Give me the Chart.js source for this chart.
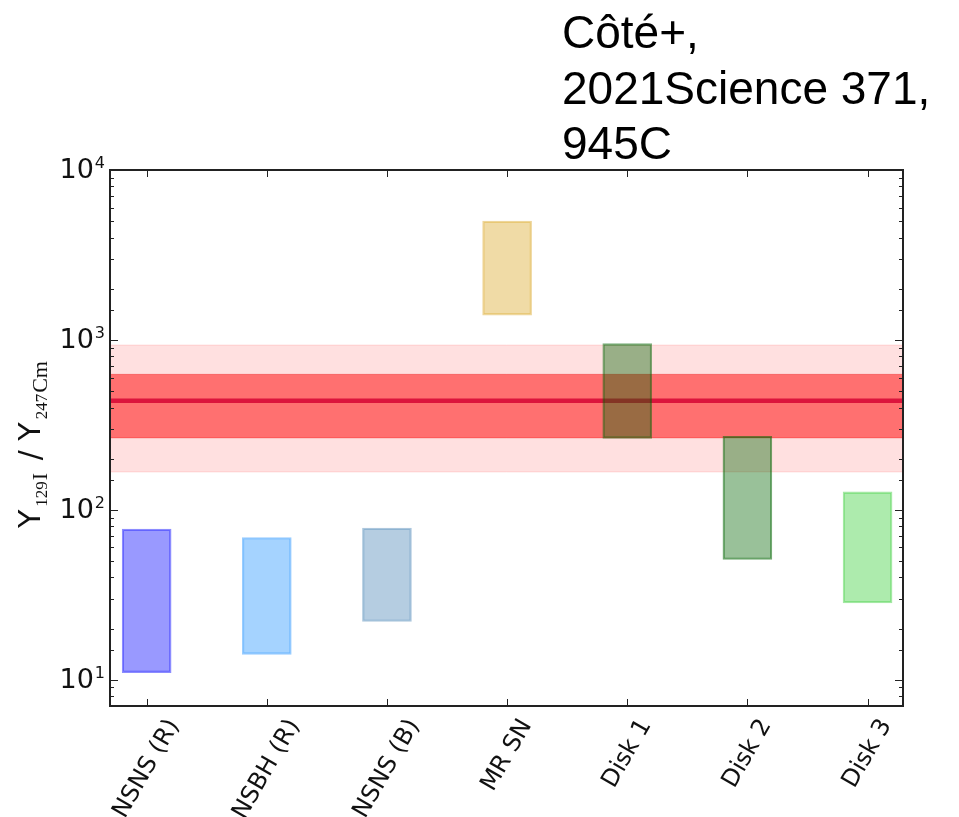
<!DOCTYPE html>
<html>
<head>
<meta charset="utf-8">
<script src="https://cdn.jsdelivr.net/npm/chart.js@4.4.0/dist/chart.umd.min.js"></script>
<style>
    html, body { margin: 0; padding: 0; background: #fff; }
    #wrap { width: 959px; height: 817px; position: relative; }
</style>
</head>
<body>
<div id="wrap"><canvas id="ratioChart"></canvas></div>
<script>
// Predicted 129I / 247Cm yield ratio ranges per site
const categories = ['NSNS (R)', 'NSBH (R)', 'NSNS (B)', 'MR SN', 'Disk 1', 'Disk 2', 'Disk 3'];
const rangeLow  = [11, 14.1, 22, 1400, 263, 51, 28.3];
const rangeHigh = [77, 68.7, 78, 5000, 950, 271, 127.6];
const barFill = [
    'rgba(0,0,255,0.4)', 'rgba(30,144,255,0.4)', 'rgba(70,130,180,0.4)',
    'rgba(218,165,32,0.4)', 'rgba(0,100,0,0.4)', 'rgba(0,100,0,0.4)', 'rgba(50,205,50,0.4)'
];
const barEdge = [
    'rgba(0,0,255,0.45)', 'rgba(30,144,255,0.45)', 'rgba(70,130,180,0.45)',
    'rgba(218,165,32,0.45)', 'rgba(0,100,0,0.5)', 'rgba(0,100,0,0.55)', 'rgba(50,205,50,0.45)'
];

// Early solar system value with 1 and 2 sigma bands
const essValue = 438;
const band1 = [265, 627];
const band2 = [167, 932];

const yTickValues = [10, 100, 1000, 10000];
const yTickExp = ['1', '2', '3', '4'];

const X_MIN = -0.305, X_MAX = 6.295;

const titleLines = ['Côté+,', '2021Science 371,', '945C'];

function flat(v) {
    return [{ x: X_MIN, y: v }, { x: X_MAX, y: v }];
}

function isMajor(v) {
    return yTickValues.findIndex(t => Math.abs(v - t) / t < 1e-6);
}

const frameAndLabels = {
    id: 'frameAndLabels',
    afterDraw(chart) {
        const { ctx, chartArea: a, scales: { x, y } } = chart;
        ctx.save();
        ctx.strokeStyle = '#222';
        ctx.lineWidth = 1;
        ctx.beginPath();
        // inward ticks, left and right
        y.ticks.forEach(t => {
            const py = Math.round(y.getPixelForValue(t.value)) + 0.5;
            const len = isMajor(t.value) >= 0 ? 8 : 4;
            ctx.moveTo(a.left, py); ctx.lineTo(a.left + len, py);
            ctx.moveTo(a.right, py); ctx.lineTo(a.right - len, py);
        });
        // inward ticks, top and bottom
        categories.forEach((c, i) => {
            const px = Math.round(x.getPixelForValue(i)) + 0.5;
            ctx.moveTo(px, a.top); ctx.lineTo(px, a.top + 7);
            ctx.moveTo(px, a.bottom); ctx.lineTo(px, a.bottom - 7);
        });
        ctx.stroke();

        ctx.lineWidth = 2;
        ctx.strokeRect(a.left, a.top, a.right - a.left, a.bottom - a.top);

        // decade labels, 10 with a raised exponent
        ctx.fillStyle = '#111';
        ctx.textBaseline = 'alphabetic';
        yTickValues.forEach((v, i) => {
            const py = y.getPixelForValue(v);
            const right = a.left - 5;
            ctx.font = '16px "DejaVu Sans"';
            const ew = ctx.measureText(yTickExp[i]).width;
            ctx.textAlign = 'left';
            ctx.fillText(yTickExp[i], right - ew, py - 2);
            ctx.font = '27px "DejaVu Sans"';
            ctx.textAlign = 'right';
            ctx.fillText('10', right - ew - 1, py + 8);
        });

        // rotated category labels, centred under each tick
        ctx.font = '24px "DejaVu Sans"';
        ctx.textAlign = 'center';
        ctx.textBaseline = 'middle';
        const rot = Math.PI / 3;
        const h = 22;
        categories.forEach((c, i) => {
            const w = ctx.measureText(c).width;
            const H = w * Math.sin(rot) + h * Math.cos(rot);
            const cx = x.getPixelForValue(i);
            const cy = a.bottom + 10 + H / 2;
            ctx.save();
            ctx.translate(cx, cy);
            ctx.rotate(-rot);
            ctx.fillText(c, 0, 0);
            ctx.restore();
        });

        // y axis title: Y_{129 I} / Y_{247 Cm}
        const parts = [
            { t: 'Y', f: '30px "DejaVu Sans"', dy: 0 },
            { t: '129', f: '17px "Liberation Serif"', dy: 7, gap: 3 },
            { t: 'I', f: '22px "Liberation Serif"', dy: 7, gap: 1 },
            { t: ' / ', f: '30px "DejaVu Sans"', dy: 0, gap: 3 },
            { t: 'Y', f: '30px "DejaVu Sans"', dy: 0 },
            { t: '247', f: '17px "Liberation Serif"', dy: 7, gap: 3 },
            { t: 'Cm', f: '22px "Liberation Serif"', dy: 7, gap: 1 }
        ];
        ctx.save();
        ctx.translate(40, 528);
        ctx.rotate(-Math.PI / 2);
        ctx.textAlign = 'left';
        ctx.textBaseline = 'alphabetic';
        let cx = 0;
        parts.forEach(p => {
            cx += p.gap || 0;
            ctx.font = p.f;
            ctx.fillText(p.t, cx, p.dy);
            cx += ctx.measureText(p.t).width;
        });
        ctx.restore();

        // citation text above the plot
        ctx.fillStyle = '#000';
        ctx.font = '46px "Liberation Sans"';
        ctx.textAlign = 'left';
        ctx.textBaseline = 'alphabetic';
        titleLines.forEach((line, i) => ctx.fillText(line, 562, 48 + i * 55.5));
        ctx.restore();
    }
};

const ctx = document.getElementById('ratioChart').getContext('2d');

new Chart(ctx, {
    type: 'bar',
    data: {
        datasets: [
            {
                label: 'Sites',
                data: categories.map((c, i) => ({ x: i, y: [rangeLow[i], rangeHigh[i]] })),
                backgroundColor: barFill,
                borderColor: barEdge,
                borderWidth: 1.5,
                borderSkipped: false,
                barThickness: 49,
                order: 0
            },
            {
                type: 'line',
                label: 'ESS',
                data: flat(essValue),
                borderColor: '#dc143c',
                borderWidth: 4.5,
                pointRadius: 0,
                order: 1
            },
            {
                type: 'line',
                label: '2 sigma low',
                data: flat(band2[0]),
                borderColor: 'rgba(255,0,0,0.12)',
                borderWidth: 1,
                pointRadius: 0,
                order: 5
            },
            {
                type: 'line',
                label: '2 sigma high',
                data: flat(band2[1]),
                borderColor: 'rgba(255,0,0,0.12)',
                backgroundColor: 'rgba(255,0,0,0.12)',
                borderWidth: 1,
                pointRadius: 0,
                fill: '-1',
                order: 4
            },
            {
                type: 'line',
                label: '1 sigma low',
                data: flat(band1[0]),
                borderColor: 'rgba(230,0,0,0.3)',
                borderWidth: 1,
                pointRadius: 0,
                order: 3
            },
            {
                type: 'line',
                label: '1 sigma high',
                data: flat(band1[1]),
                borderColor: 'rgba(230,0,0,0.3)',
                backgroundColor: 'rgba(255,0,0,0.5)',
                borderWidth: 1,
                pointRadius: 0,
                fill: '-1',
                order: 2
            }
        ]
    },
    options: {
        responsive: true,
        maintainAspectRatio: false,
        animation: false,
        layout: {
            padding: { top: 170, right: 56, bottom: 0, left: 0 }
        },
        plugins: {
            legend: { display: false },
            tooltip: { enabled: false }
        },
        scales: {
            x: {
                type: 'linear',
                min: X_MIN,
                max: X_MAX,
                offset: false,
                grid: { display: false },
                border: { display: false },
                ticks: { display: false },
                afterBuildTicks: s => { s.ticks = categories.map((c, i) => ({ value: i })); },
                afterFit: s => { s.height = 111; }
            },
            y: {
                type: 'logarithmic',
                min: 7,
                max: 10000,
                grid: { display: false },
                border: { display: false },
                ticks: { display: false, autoSkip: false },
                afterFit: s => { s.width = 110; }
            }
        }
    },
    plugins: [frameAndLabels]
});
</script>
</body>
</html>
